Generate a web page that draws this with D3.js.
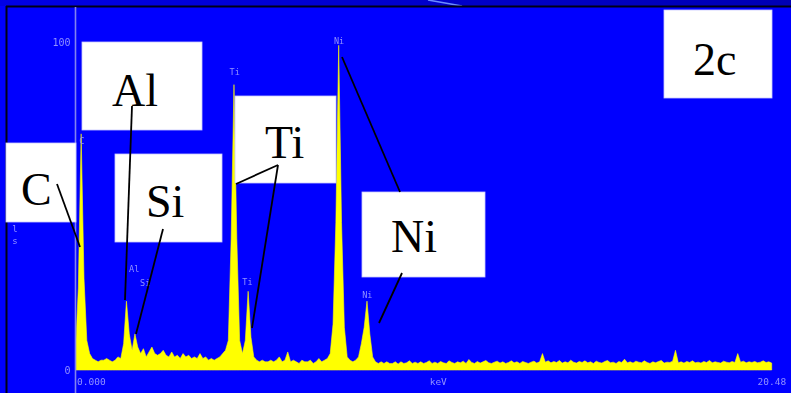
<!DOCTYPE html>
<html><head><meta charset="utf-8">
<script src="https://cdn.jsdelivr.net/npm/d3@7/dist/d3.min.js"></script>
<style>body{margin:0;background:#0000ff;overflow:hidden}svg{display:block}</style>
</head><body>
<script>
// ---- data ----
const channelWidth = 0.08; // keV per channel
const fullScaleKeV = 20.48;
const yTickLabels = ["0", "100"];
const xLabels = ["0.000", "keV", "20.48"];
// counts (% of full scale) per channel
const counts = [
  6, 25, 72, 28, 9, 5, 3.5, 3, 2.5, 3,
  3, 3.5, 3, 2.5, 3, 4, 3.5, 8, 21, 11,
  6, 11, 7, 5, 6.5, 4, 5.5, 7, 5, 4.5,
  5, 6, 4.5, 4, 5.5, 4, 4.5, 3.5, 5, 4,
  4.5, 3.5, 4, 3.5, 5, 3.5, 4, 3, 3.5, 3,
  3.5, 4, 5, 6, 9, 40, 87, 40, 9, 5,
  9, 24, 10, 4, 3, 2.5, 3, 2.5, 2.5, 3,
  2.5, 3, 4, 2.5, 3, 5.5, 2.5, 3, 2.5, 2,
  3, 2.5, 2.5, 3, 2, 2.5, 3.5, 2.5, 3, 3.5,
  5, 14, 45, 99, 45, 13, 4, 3, 2.5, 3,
  4, 8, 13, 21, 11, 4, 2.5, 2, 2.5, 2,
  2.5, 2, 2, 2.5, 1.8, 2.5, 2, 2.2, 2.8, 2,
  2.4, 2, 2.5, 2, 2.3, 2.8, 2, 2.4, 2, 2.6,
  2.2, 2, 2.8, 2.3, 2, 2.5, 2.2, 2.7, 2, 3.2,
  2.3, 2, 2.6, 2.1, 2.5, 2.9, 2.2, 2, 2.4, 2.7,
  2.1, 2.5, 2, 2.3, 2.8, 2.2, 2.5, 2, 2.6, 2.3,
  2, 2.4, 2.7, 2.1, 2.5, 5, 2.4, 2.8, 2.2, 2.6,
  2.3, 2.9, 2.1, 2.5, 2.2, 3, 2.4, 2.1, 2.6, 2.3,
  2.8, 2.2, 2.5, 2, 2.7, 2.3, 2.1, 2.6, 2.9, 2.2,
  2.4, 2, 2.6, 2.3, 3.3, 2.2, 2.5, 2.1, 2.7, 2.4,
  2.2, 2.8, 2.3, 2, 2.5, 2.2, 2.6, 2.9, 2.1, 2.4,
  2.3, 2.7, 6, 2.2, 2.5, 2.1, 2.6, 2.3, 2.8, 2.2,
  2.4, 2.1, 2.6, 2.3, 2.9, 2.2, 2.5, 2.3, 2.1, 2.7,
  2.4, 2.2, 2.6, 2.3, 5, 2.4, 2.7, 2.2, 2.5, 2.3,
  2.6, 2.2, 2.4, 2.8, 2.3, 2.5, 2.1
];
// element markers: label, energy (keV), label height (% full scale)
const markerNames = ["C", "Al", "Si", "Ti", "Ti", "Ni", "Ni"];
const markerKeV =   [0.18, 1.66, 1.97, 4.50, 4.86, 7.45, 8.25];
const markerLevel = [69, 30, 25.5, 90, 26, 99.5, 22];
// annotation callouts
const calloutText = ["C", "Al", "Si", "Ti", "Ni", "2c"];

// ---- layout ----
const W = 791, H = 393;
const svg = d3.select("body").append("svg").attr("width", W).attr("height", H);
const x = d3.scaleLinear().domain([0, fullScaleKeV]).range([75.5, 800]);
const y = d3.scaleLinear().domain([0, 100]).range([370, 42]);
const lav = "#9191ff";

const defs = svg.append("defs");
const g1 = defs.append("linearGradient").attr("id", "topband");
g1.append("stop").attr("offset", "0%").attr("stop-color", "#0000e6");
g1.append("stop").attr("offset", "100%").attr("stop-color", "#0000b4");
defs.append("filter").attr("id", "soft").append("feGaussianBlur").attr("stdDeviation", 0.45);

svg.append("rect").attr("width", W).attr("height", H).attr("fill", "#0000ff");
svg.append("rect").attr("width", W).attr("height", 6).attr("fill", "url(#topband)");
svg.append("line").attr("x1", 428).attr("y1", 0).attr("x2", 462).attr("y2", 6)
  .attr("stroke", "#6a8cff").attr("stroke-width", 1.5);
svg.append("line").attr("x1", 6).attr("x2", W).attr("y1", 6.5).attr("y2", 6.5)
  .attr("stroke", "#000014").attr("stroke-width", 2);
svg.append("line").attr("x1", 6.5).attr("x2", 6.5).attr("y1", 6).attr("y2", H)
  .attr("stroke", "#000014").attr("stroke-width", 2);

// spectrum
const pts = counts.map((c, i) => [i * channelWidth, c]);
const area = d3.area().x(d => x(d[0])).y0(y(0)).y1(d => y(d[1])).curve(d3.curveLinear);
svg.append("path").datum(pts).attr("d", area).attr("fill", "#ffff00")
  .attr("stroke", "#ffff00").attr("stroke-width", 0.6);

// axis line
svg.append("line").attr("x1", x(0)).attr("x2", x(0)).attr("y1", 7).attr("y2", H)
  .attr("stroke", "#8282ee").attr("stroke-width", 1.6);

// y axis labels
const yAxis = d3.axisLeft(y).tickValues([0, 100]).tickSize(0).tickPadding(5)
  .tickFormat((d, i) => yTickLabels[i]);
const ya = svg.append("g").attr("transform", `translate(${x(0)},0)`).call(yAxis)
  .attr("filter", "url(#soft)");
ya.select(".domain").remove();
ya.selectAll("text").attr("fill", lav).attr("font-family", "DejaVu Sans Mono").attr("font-size", 10);

// x labels
const xAxis = d3.axisBottom(x).tickValues([0, 10.24, 20.48]).tickSize(0).tickPadding(8)
  .tickFormat((d, i) => xLabels[i]);
const xa = svg.append("g").attr("transform", `translate(0,${y(0)})`).call(xAxis)
  .attr("filter", "url(#soft)");
xa.select(".domain").remove();
xa.selectAll("text").attr("fill", lav).attr("font-family", "DejaVu Sans Mono").attr("font-size", 9.5)
  .attr("text-anchor", (d, i) => i === 1 ? "middle" : "start")
  .attr("dx", (d, i) => i === 0 ? 1 : (i === 2 ? -43 : 0));

// vertical unit label
svg.append("g").attr("filter", "url(#soft)").selectAll("text").data(["l", "s"]).join("text")
  .attr("x", 15).attr("y", (d, i) => 232 + i * 12).attr("text-anchor", "middle")
  .attr("fill", lav).attr("font-family", "DejaVu Sans Mono").attr("font-size", 9).text(d => d);

// element markers
svg.append("g").attr("filter", "url(#soft)").selectAll("text").data(markerNames).join("text")
  .attr("x", (d, i) => x(markerKeV[i])).attr("y", (d, i) => y(markerLevel[i]))
  .attr("text-anchor", "middle").attr("fill", lav)
  .attr("font-family", "DejaVu Sans Mono").attr("font-size", 8.5).text(d => d);

// callout boxes
const boxes = [
  {x0: 6, y0: 143, x1: 76, y1: 222, tx: 21, ty: 205},
  {x0: 82, y0: 42, x1: 202, y1: 130, tx: 112, ty: 106},
  {x0: 115, y0: 154, x1: 222, y1: 242, tx: 146, ty: 217},
  {x0: 235, y0: 96, x1: 336, y1: 183, tx: 265, ty: 158},
  {x0: 362, y0: 192, x1: 485, y1: 277, tx: 391, ty: 252},
  {x0: 664, y0: 10, x1: 772, y1: 98, tx: 693, ty: 75}
];
const bg = svg.append("g");
bg.selectAll("rect").data(boxes).join("rect")
  .attr("x", d => d.x0).attr("y", d => d.y0)
  .attr("width", d => d.x1 - d.x0).attr("height", d => d.y1 - d.y0)
  .attr("fill", "#ffffff").attr("stroke", "#c8c8ff").attr("stroke-width", 0.8);
bg.selectAll("text").data(boxes).join("text")
  .attr("x", d => d.tx).attr("y", d => d.ty)
  .attr("font-family", "Liberation Serif").attr("font-size", 46).attr("fill", "#000")
  .text((d, i) => calloutText[i]);

// leader lines
const leaders = [
  [57, 184, 80, 247],
  [132, 106, 125, 300],
  [163, 229, 136, 334],
  [278, 165, 236, 184],
  [278, 165, 252, 328],
  [342, 57, 400, 192],
  [402, 273, 379, 323]
];
svg.append("g").selectAll("line").data(leaders).join("line")
  .attr("x1", d => d[0]).attr("y1", d => d[1]).attr("x2", d => d[2]).attr("y2", d => d[3])
  .attr("stroke", "#000").attr("stroke-width", 1.8);
</script>
</body></html>
